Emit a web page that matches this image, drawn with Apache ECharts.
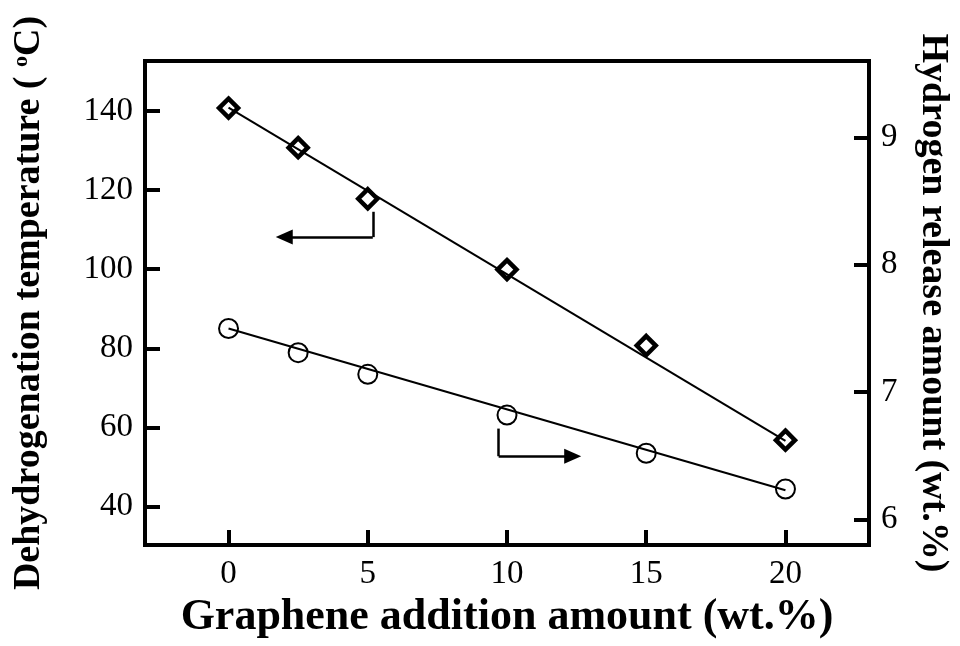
<!DOCTYPE html>
<html>
<head>
<meta charset="utf-8">
<script src="https://cdn.jsdelivr.net/npm/echarts@6/dist/echarts.min.js"></script>
<style>
  html, body { margin: 0; padding: 0; background: #fff; }
  #chart { width: 960px; height: 646px; }
</style>
</head>
<body>
<div id="chart"></div>
<script>
// graphene content (wt.%)
var xAmount = [0, 2.5, 5, 10, 15, 20];
// dehydrogenation temperature (left axis)
var tempValues = [140.7, 130.7, 117.8, 99.9, 80.7, 56.8];
// hydrogen release amount (right axis)
var releaseValues = [7.50, 7.31, 7.14, 6.82, 6.52, 6.24];
// fitted straight lines, end points
var tempFit = [[0, 140.8], [20, 56.6]];
var releaseFit = [[0, 7.50], [20, 6.23]];
// tick labels
var xTicks = [0, 5, 10, 15, 20];
var leftTicks = [40, 60, 80, 100, 120, 140];
var rightTicks = [6, 7, 8, 9];
// arrows: corner start, elbow, arrow head
var leftArrow = [[5.18, 114.5], [5.18, 108.1], [2.0, 108.1]];
var rightArrow = [[9.7, 6.714], [9.7, 6.497], [12.36, 6.497]];

var serif = "'Liberation Serif', 'Times New Roman', serif";

function arrowLines(pts) {
  return [
    [{ coord: pts[0], symbol: 'none' }, { coord: pts[1], symbol: 'none' }],
    [{ coord: pts[1], symbol: 'none' }, { coord: pts[2], symbol: 'triangle', symbolSize: [15, 17] }]
  ];
}

function pairs(xs, ys) {
  return xs.map(function (x, i) { return [x, ys[i]]; });
}

var axisCommon = {
  axisLine: { show: true, onZero: false, lineStyle: { color: '#000', width: 4 } },
  axisTick: { inside: true, length: 15, lineStyle: { color: '#000', width: 4 } },
  axisLabel: { color: '#000', fontFamily: serif, fontSize: 33, margin: 12 },
  splitLine: { show: false }
};

var option = {
  backgroundColor: '#fff',
  animation: false,
  grid: {
    left: 145, right: 87, top: 61, bottom: 101,
    show: true, borderColor: '#000', borderWidth: 4
  },
  xAxis: Object.assign({}, axisCommon, {
    type: 'value', min: -3, max: 23,
    axisTick: Object.assign({}, axisCommon.axisTick, { customValues: xTicks }),
    axisLabel: Object.assign({}, axisCommon.axisLabel, { customValues: xTicks, margin: 13 }),
    name: 'Graphene addition amount (wt.%)',
    nameLocation: 'middle', nameGap: 44,
    nameTextStyle: { color: '#000', fontFamily: serif, fontWeight: 'bold', fontSize: 44 }
  }),
  yAxis: [
    Object.assign({}, axisCommon, {
      type: 'value', min: 30.3, max: 152.6, position: 'left',
      axisTick: Object.assign({}, axisCommon.axisTick, { customValues: leftTicks }),
      axisLabel: Object.assign({}, axisCommon.axisLabel, { customValues: leftTicks }),
      name: 'Dehydrogenation temperature ( {sup|o}C)',
      nameLocation: 'middle', nameGap: 97,
      nameTextStyle: {
        color: '#000', fontFamily: serif, fontWeight: 'bold', fontSize: 38,
        rich: { sup: { fontFamily: serif, fontWeight: 'bold', fontSize: 22, verticalAlign: 'top', padding: [0, 0, 14, 0] } }
      }
    }),
    Object.assign({}, axisCommon, {
      type: 'value', min: 5.8, max: 9.6, position: 'right',
      axisTick: Object.assign({}, axisCommon.axisTick, { customValues: rightTicks }),
      axisLabel: Object.assign({}, axisCommon.axisLabel, { customValues: rightTicks }),
      name: 'Hydrogen release amount (wt.%)',
      nameLocation: 'middle', nameGap: 45, nameRotate: -90,
      nameTextStyle: { color: '#000', fontFamily: serif, fontWeight: 'bold', fontSize: 38 }
    })
  ],
  series: [
    {
      name: 'temp fit', type: 'line', yAxisIndex: 0,
      data: tempFit, symbol: 'none', silent: true,
      lineStyle: { color: '#000', width: 2 },
      markLine: {
        silent: true, animation: false,
        label: { show: false },
        lineStyle: { color: '#000', width: 2.5, type: 'solid' },
        data: arrowLines(leftArrow)
      }
    },
    {
      name: 'release fit', type: 'line', yAxisIndex: 1,
      data: releaseFit, symbol: 'none', silent: true,
      lineStyle: { color: '#000', width: 2 },
      markLine: {
        silent: true, animation: false,
        label: { show: false },
        lineStyle: { color: '#000', width: 2.5, type: 'solid' },
        data: arrowLines(rightArrow)
      }
    },
    {
      name: 'temperature', type: 'scatter', yAxisIndex: 0,
      data: pairs(xAmount, tempValues),
      symbol: 'diamond', symbolSize: 19,
      itemStyle: { color: 'rgba(0,0,0,0)', borderColor: '#000', borderWidth: 4.5, opacity: 1 }
    },
    {
      name: 'release', type: 'scatter', yAxisIndex: 1,
      data: pairs(xAmount, releaseValues),
      symbol: 'circle', symbolSize: 19,
      itemStyle: { color: 'rgba(0,0,0,0)', borderColor: '#000', borderWidth: 2, opacity: 1 }
    }
  ]
};

echarts.init(document.getElementById('chart')).setOption(option);
</script>
</body>
</html>
